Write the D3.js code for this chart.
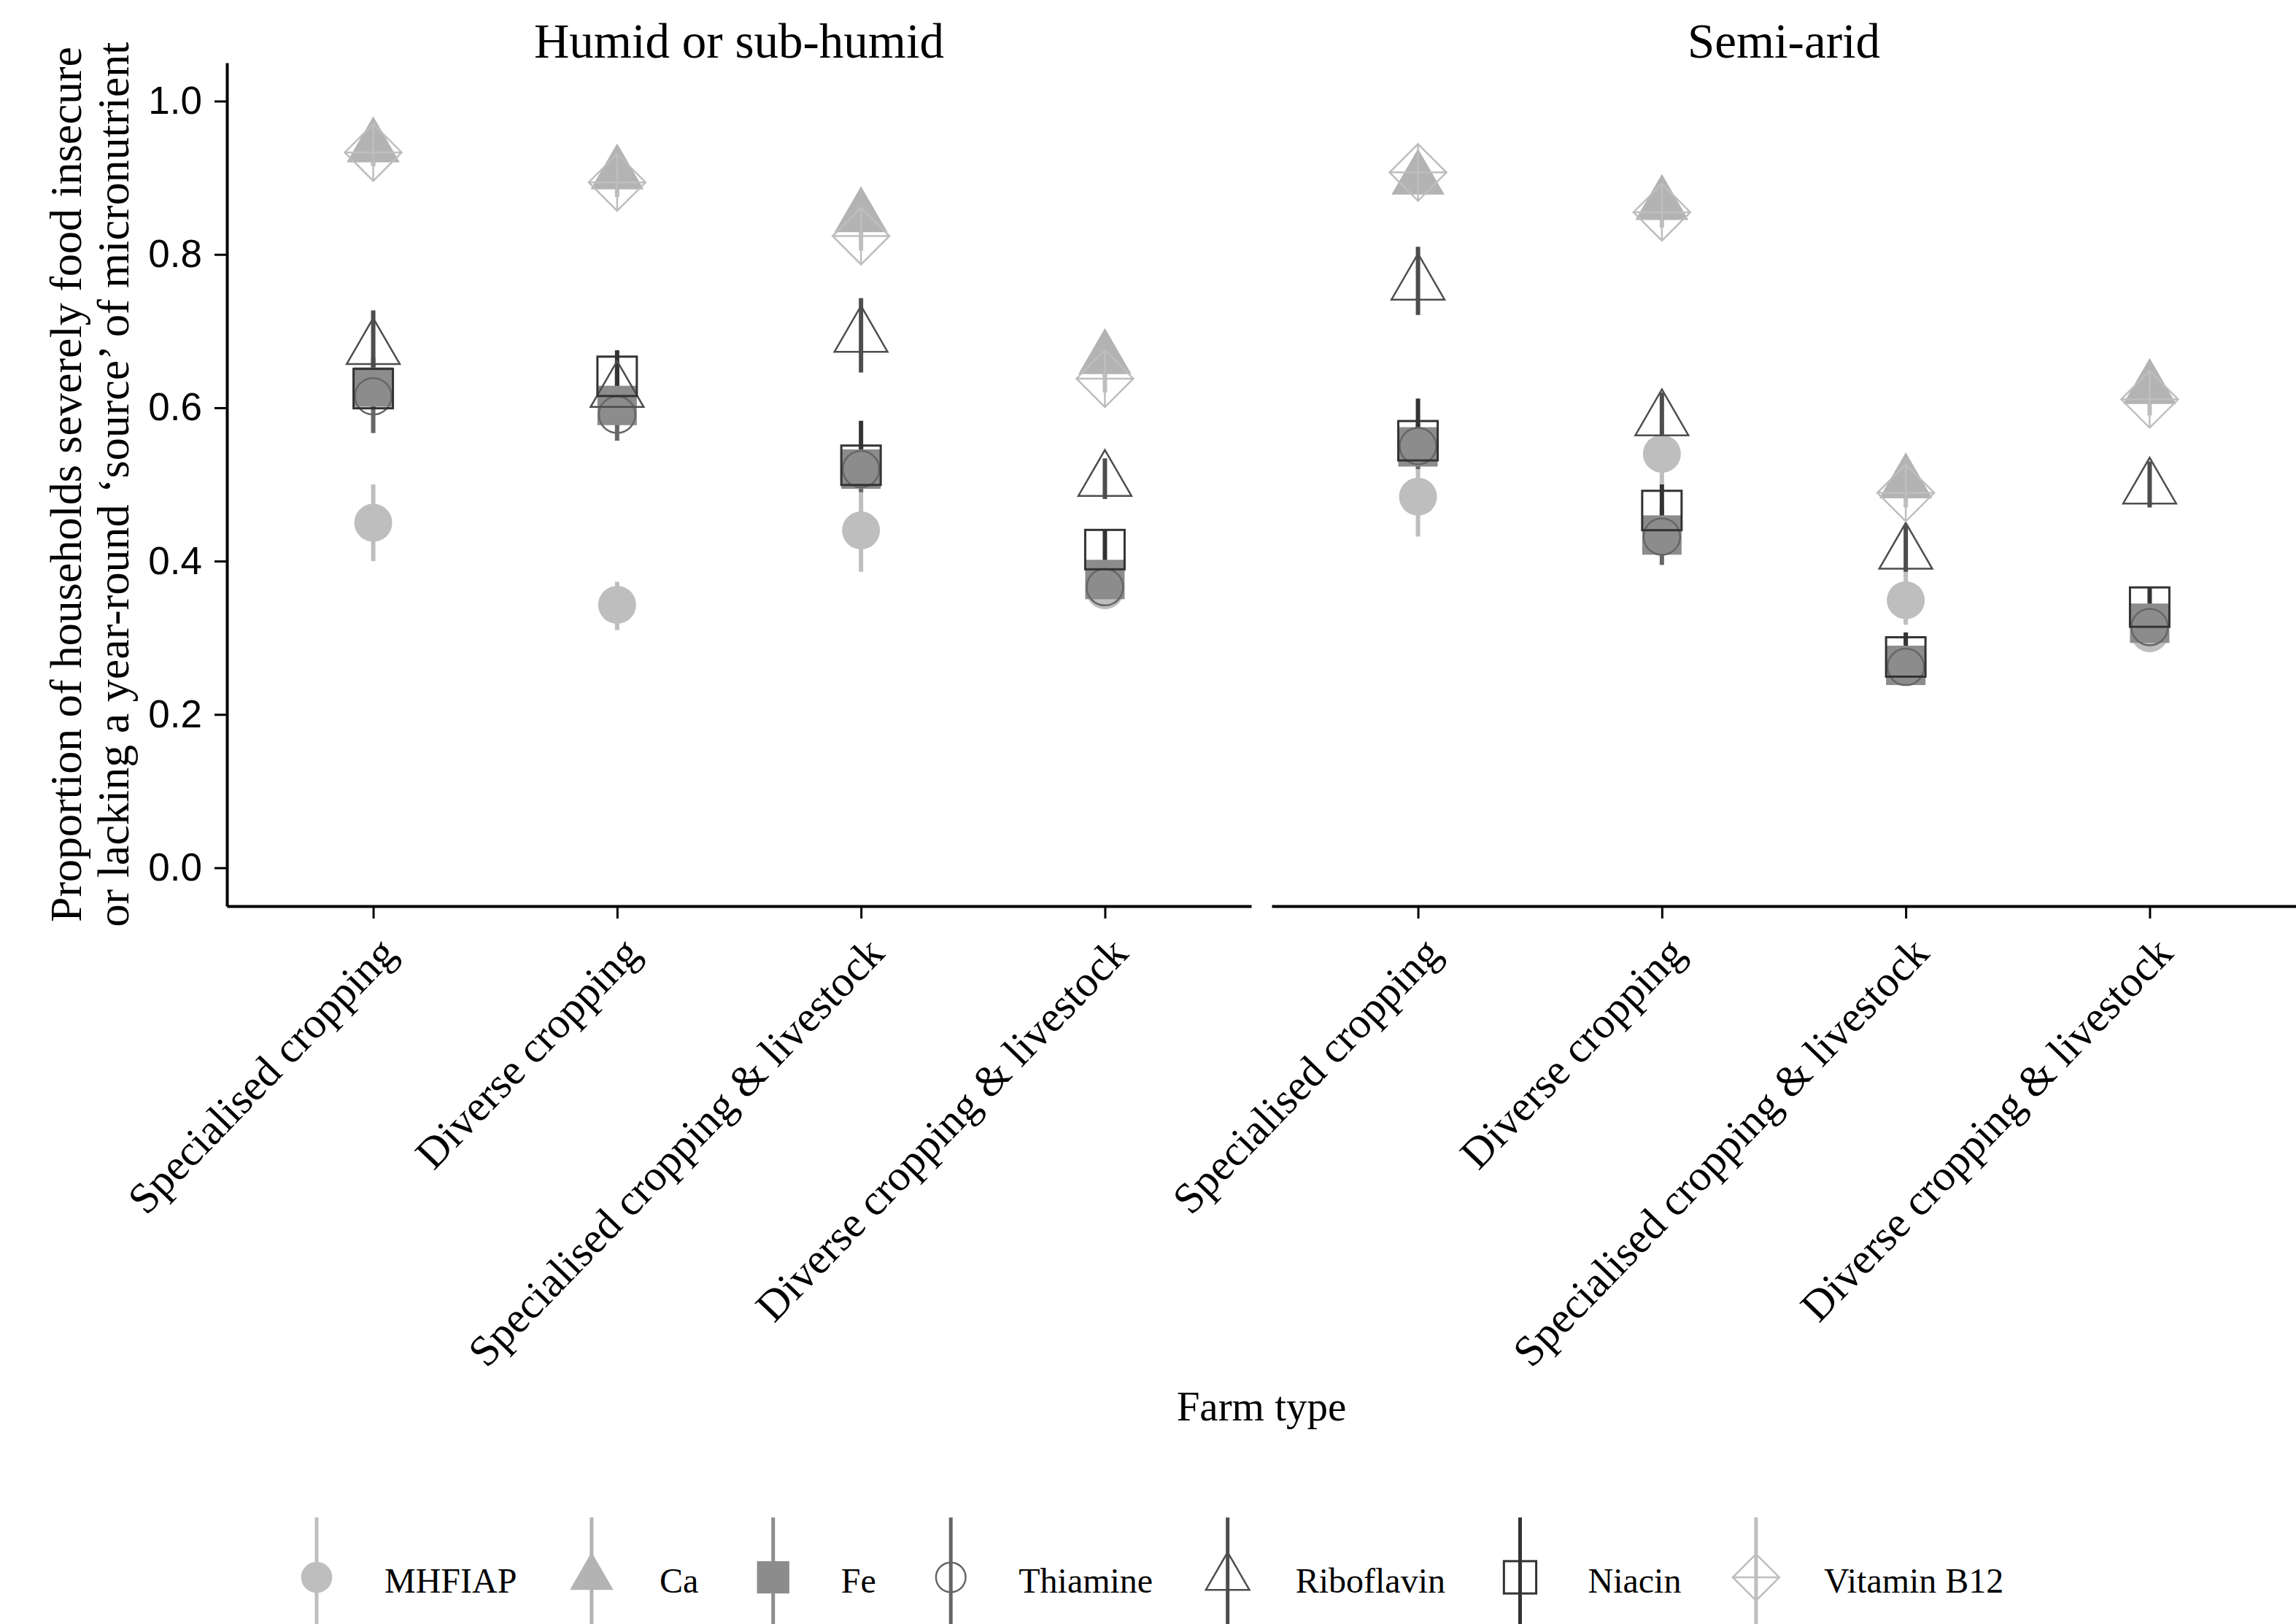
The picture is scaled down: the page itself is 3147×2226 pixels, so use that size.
<!DOCTYPE html>
<html><head><meta charset="utf-8">
<script src="https://cdn.jsdelivr.net/npm/d3@7"></script>
<style>html,body{margin:0;padding:0;background:#fff;} svg{display:block;}</style>
</head><body>
<svg id="chart" width="3147" height="2226"></svg>
<script>
// ---------- DATA ----------
const farmTypes = ["Specialised cropping", "Diverse cropping", "Specialised cropping & livestock", "Diverse cropping & livestock"];
const zones = ["Humid or sub-humid", "Semi-arid"];
const nutrients = ["MHFIAP", "Ca", "Fe", "Thiamine", "Riboflavin", "Niacin", "Vitamin B12"];
const yTicks = [0, 0.2, 0.4, 0.6, 0.8, 1.0];
const xTitle = "Farm type";
const yTitle = ["Proportion of households severely food insecure", "or lacking a year-round \u2018source\u2019 of micronutrient"];

// [estimate, lower, upper]; first four = humid or sub-humid, last four = semi-arid
const mhfiap = [[0.45,0.40,0.50],[0.343,0.31,0.373],[0.44,0.386,0.49],[0.362,0.345,0.38],
                [0.484,0.432,0.523],[0.54,0.499,0.58],[0.349,0.317,0.386],[0.306,0.29,0.322]];
const ca = [[0.94,0.92,0.96],[0.905,0.885,0.925],[0.849,0.83,0.87],[0.664,0.64,0.685],
            [0.898,0.88,0.915],[0.865,0.845,0.885],[0.502,0.48,0.525],[0.625,0.605,0.645]];
const fe = [[0.627,0.60,0.655],[0.603,0.575,0.63],[0.52,0.49,0.55],[0.376,0.355,0.40],
            [0.549,0.525,0.575],[0.434,0.41,0.46],[0.264,0.245,0.285],[0.319,0.30,0.34]];
const thiamine = [[0.615,0.567,0.665],[0.591,0.557,0.625],[0.52,0.49,0.55],[0.366,0.345,0.39],
                  [0.55,0.52,0.58],[0.432,0.395,0.47],[0.262,0.24,0.285],[0.314,0.295,0.335]];
const riboflavin = [[0.677,0.63,0.727],[0.621,0.59,0.65],[0.693,0.646,0.743],[0.505,0.481,0.534],
                    [0.761,0.721,0.81],[0.584,0.55,0.62],[0.41,0.386,0.447],[0.495,0.47,0.53]];
const niacin = [[0.625,0.60,0.65],[0.641,0.61,0.675],[0.525,0.50,0.583],[0.415,0.385,0.44],
                [0.557,0.53,0.612],[0.466,0.44,0.50],[0.275,0.25,0.307],[0.34,0.31,0.365]];
const vitaminB12 = [[0.933,0.915,0.95],[0.894,0.875,0.91],[0.824,0.805,0.845],[0.638,0.62,0.655],
                    [0.907,0.89,0.925],[0.855,0.835,0.875],[0.489,0.47,0.51],[0.611,0.59,0.63]];
const seriesValues = [mhfiap, ca, fe, thiamine, riboflavin, niacin, vitaminB12];

// ---------- STYLES ----------
const shapes  = ["circleFill","triangleFill","squareFill","circleOpen","triangleOpen","squareOpen","diamondPlus"];
const colours = ["#bebebe","#b3b3b3","#8c8c8c","#666666","#4d4d4d","#333333","#bebebe"];
const serif = "'Liberation Serif', 'DejaVu Serif', serif";
const sans  = "'Liberation Sans', Arial, sans-serif";

const W = 3147, H = 2226;
const svg = d3.select("#chart");
const panelTop = 86, panelBottom = 1242;
const panels = [[311, 1715], [1743, 3147]];

const y = d3.scaleLinear().domain([-0.05, 1.05]).range([panelBottom, panelTop]);

function drawShape(g, shape, col, k) {
  const r = 26 * k, tr = 27 * k, sq = 27 * k, dm = 39 * k;
  const triPath = `M0,${-1.555*tr}L${1.3468*tr},${0.7776*tr}L${-1.3468*tr},${0.7776*tr}Z`;
  switch (shape) {
    case "circleFill": g.append("circle").attr("r", r).attr("fill", col); break;
    case "triangleFill": g.append("path").attr("d", triPath).attr("fill", col); break;
    case "squareFill": g.append("rect").attr("x", -sq).attr("y", -sq).attr("width", 2*sq).attr("height", 2*sq).attr("fill", col); break;
    case "circleOpen": g.append("circle").attr("r", r - 1).attr("fill", "none").attr("stroke", col).attr("stroke-width", 2.5); break;
    case "triangleOpen": g.append("path").attr("d", triPath).attr("fill", "none").attr("stroke", col).attr("stroke-width", 2.5).attr("stroke-linejoin","miter"); break;
    case "squareOpen": g.append("rect").attr("x", -sq).attr("y", -sq).attr("width", 2*sq).attr("height", 2*sq).attr("fill", "none").attr("stroke", col).attr("stroke-width", 3); break;
    case "diamondPlus":
      g.append("path").attr("d", `M0,${-dm}L${dm},0L0,${dm}L${-dm},0Z M0,${-dm}L0,${dm} M${-dm},0L${dm},0`)
        .attr("fill", "none").attr("stroke", col).attr("stroke-width", 2.5); break;
  }
}

// ---------- PANELS ----------
zones.forEach((zone, zi) => {
  const [x0, x1] = panels[zi];
  const x = d3.scalePoint().domain(farmTypes).range([x0, x1]).padding(0.6);
  const g = svg.append("g");

  // strip title
  g.append("text").attr("x", (x0 + x1) / 2).attr("y", 79).attr("text-anchor", "middle")
    .attr("font-family", serif).attr("font-size", 67).attr("fill", "#000").text(zone);

  // x axis
  const xa = g.append("g").attr("transform", `translate(0,${panelBottom})`)
    .call(d3.axisBottom(x).tickSize(17).tickSizeOuter(0).tickFormat(""));
  xa.select(".domain").attr("stroke", "#000").attr("stroke-width", 4);
  xa.selectAll(".tick line").attr("stroke", "#000").attr("stroke-width", 3);

  // x tick labels rotated
  g.selectAll(".xlab").data(farmTypes).join("text")
    .attr("transform", d => `translate(${x(d) + 4},${1280}) rotate(-46)`)
    .attr("text-anchor", "end").attr("dominant-baseline", "hanging")
    .attr("font-family", serif).attr("font-size", 59.5).attr("fill", "#000").text(d => d);

  if (zi === 0) {
    const ya = g.append("g").attr("transform", `translate(${x0},0)`)
      .call(d3.axisLeft(y).tickValues(yTicks).tickFormat(d3.format(".1f")).tickSize(17).tickPadding(17).tickSizeOuter(0));
    ya.select(".domain").attr("stroke", "#000").attr("stroke-width", 4);
    ya.selectAll(".tick line").attr("stroke", "#000").attr("stroke-width", 3);
    ya.selectAll(".tick text").attr("font-family", sans).attr("font-size", 53).attr("fill", "#000");
  }

  // error bars (all series first)
  nutrients.forEach((n, si) => {
    const vals = seriesValues[si].slice(zi * 4, zi * 4 + 4);
    g.selectAll(null).data(vals).join("line")
      .attr("x1", (d, i) => x(farmTypes[i])).attr("x2", (d, i) => x(farmTypes[i]))
      .attr("y1", d => y(d[1])).attr("y2", d => y(d[2]))
      .attr("stroke", colours[si]).attr("stroke-width", 6);
  });
  // points
  nutrients.forEach((n, si) => {
    const vals = seriesValues[si].slice(zi * 4, zi * 4 + 4);
    vals.forEach((d, i) => {
      const pg = g.append("g").attr("transform", `translate(${x(farmTypes[i])},${y(d[0])})`);
      drawShape(pg, shapes[si], colours[si], 1);
    });
  });
});

// ---------- AXIS TITLES ----------
svg.append("text").attr("x", (panels[0][0] + panels[1][1]) / 2).attr("y", 1947).attr("text-anchor", "middle")
  .attr("font-family", serif).attr("font-size", 57).attr("fill", "#000").text(xTitle);

const yMid = (panelTop + panelBottom) / 2;
[111, 176].forEach((bx, i) => {
  svg.append("text").attr("transform", `translate(${bx},${yMid}) rotate(-90)`).attr("text-anchor", "middle")
    .attr("font-family", serif).attr("font-size", 62).attr("fill", "#000").text(yTitle[i]);
});

// ---------- LEGEND ----------
const legend = svg.append("g");
let lx = 434;
const legendY = 2162;
nutrients.forEach((n, si) => {
  const item = legend.append("g");
  item.append("line").attr("x1", lx).attr("x2", lx).attr("y1", 2080).attr("y2", H)
    .attr("stroke", colours[si]).attr("stroke-width", 5);
  const sg = item.append("g").attr("transform", `translate(${lx},${legendY})`);
  drawShape(sg, shapes[si], colours[si], 0.82);
  const t = item.append("text").attr("x", lx + 93).attr("y", 2183)
    .attr("font-family", serif).attr("font-size", 48).attr("fill", "#000").text(n);
  lx = lx + 93 + t.node().getComputedTextLength() + 102.5;
});
</script>
</body></html>
